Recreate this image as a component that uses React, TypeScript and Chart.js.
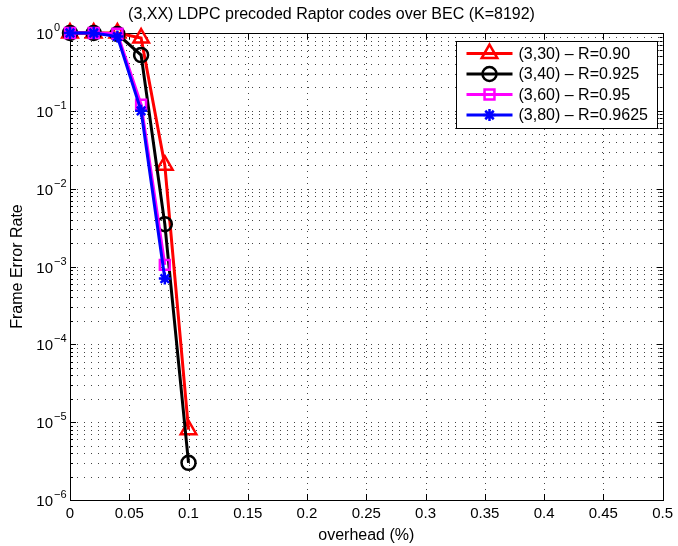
import React, { useEffect, useRef } from 'react';
import { Chart, registerables } from 'chart.js';

Chart.register(...registerables);

// ---- data ----
const overhead = [0, 0.02, 0.04, 0.06, 0.08, 0.1];
const fer330 = [1, 1, 1, 0.86, 0.02, 8e-6];
const fer340 = [1, 1, 0.97, 0.52, 0.0035, 3e-6];
const fer360 = [1, 1, 0.98, 0.12, 0.00105];
const fer380 = [1, 1, 0.9, 0.1, 0.0007];
const seriesLabels = ['(3,30) \u2013 R=0.90', '(3,40) \u2013 R=0.925', '(3,60) \u2013 R=0.95', '(3,80) \u2013 R=0.9625'];
const seriesColors = ['#ff0000', '#000000', '#ff00ff', '#0000ff'];
const seriesMarkers = ['triangle', 'circle', 'rect', 'star'];
const markerRadii = [9, 7, 7, 6];
const xTicks = [0, 0.05, 0.1, 0.15, 0.2, 0.25, 0.3, 0.35, 0.4, 0.45, 0.5];
const yDecades = [-6, -5, -4, -3, -2, -1, 0];
const titleText = '(3,XX) LDPC precoded Raptor codes over BEC (K=8192)';
const xTitle = 'overhead (%)';
const yTitle = 'Frame Error Rate';

const FONT = '"Liberation Sans", Arial, Helvetica, sans-serif';

function yTickValues() {
  const out: number[] = [];
  for (let i = 0; i < yDecades.length; i++) {
    const d = yDecades[i];
    if (d === 0) { out.push(1); break; }
    for (let m = 1; m <= 9; m++) out.push(m * Math.pow(10, d));
  }
  return out;
}

function drawMarker(ctx: CanvasRenderingContext2D, style: string, x: number, y: number, r: number) {
  ctx.beginPath();
  if (style === 'triangle') {
    let rad = 0;
    ctx.moveTo(x + Math.sin(rad) * r, y - Math.cos(rad) * r);
    rad += (2 * Math.PI) / 3;
    ctx.lineTo(x + Math.sin(rad) * r, y - Math.cos(rad) * r);
    rad += (2 * Math.PI) / 3;
    ctx.lineTo(x + Math.sin(rad) * r, y - Math.cos(rad) * r);
    ctx.closePath();
  } else if (style === 'circle') {
    ctx.arc(x, y, r, 0, Math.PI * 2);
    ctx.closePath();
  } else if (style === 'rect') {
    const s = r * Math.SQRT1_2;
    ctx.rect(x - s, y - s, 2 * s, 2 * s);
  } else if (style === 'star') {
    for (let k = 0; k < 4; k++) {
      const a = (k * Math.PI) / 4;
      ctx.moveTo(x - Math.cos(a) * r, y - Math.sin(a) * r);
      ctx.lineTo(x + Math.cos(a) * r, y + Math.sin(a) * r);
    }
  }
  ctx.stroke();
}

const matlabPlugin = {
  id: 'matlabAxes',
  beforeDatasetsDraw(chart: any) {
    const { ctx, chartArea: a, scales } = chart;
    const xs = scales.x, ys = scales.y;
    ctx.save();
    // dotted grid
    ctx.strokeStyle = '#444';
    ctx.lineWidth = 1;
    ctx.setLineDash([1, 6]);
    ys.ticks.forEach((t: any) => {
      const py = Math.round(ys.getPixelForValue(t.value)) + 0.5;
      if (py <= a.top + 1 || py >= a.bottom - 1) return;
      ctx.beginPath(); ctx.moveTo(a.left, py); ctx.lineTo(a.right, py); ctx.stroke();
    });
    ctx.setLineDash([1, 5]);
    xs.ticks.forEach((t: any) => {
      const px = Math.round(xs.getPixelForValue(t.value)) + 0.5;
      if (px <= a.left + 1 || px >= a.right - 1) return;
      ctx.beginPath(); ctx.moveTo(px, a.top); ctx.lineTo(px, a.bottom); ctx.stroke();
    });
    ctx.setLineDash([]);
    // box
    ctx.strokeStyle = '#000';
    ctx.lineWidth = 1;
    ctx.strokeRect(Math.round(a.left) + 0.5, Math.round(a.top) + 0.5, Math.round(a.right - a.left), Math.round(a.bottom - a.top));
    // inner tick marks
    ctx.beginPath();
    xs.ticks.forEach((t: any) => {
      const px = Math.round(xs.getPixelForValue(t.value)) + 0.5;
      ctx.moveTo(px, a.bottom); ctx.lineTo(px, a.bottom - 6);
      ctx.moveTo(px, a.top); ctx.lineTo(px, a.top + 6);
    });
    ys.ticks.forEach((t: any) => {
      const py = Math.round(ys.getPixelForValue(t.value)) + 0.5;
      const major = Math.abs(Math.log10(t.value) - Math.round(Math.log10(t.value))) < 1e-9;
      const len = major ? 6 : 3;
      ctx.moveTo(a.left, py); ctx.lineTo(a.left + len, py);
      ctx.moveTo(a.right, py); ctx.lineTo(a.right - len, py);
    });
    ctx.stroke();
    // y tick labels: 10 with superscript exponent
    ctx.fillStyle = '#000';
    yDecades.forEach((d) => {
      const py = ys.getPixelForValue(Math.pow(10, d));
      const baseRight = a.left - 17;
      ctx.font = '15px ' + FONT;
      ctx.textAlign = 'right';
      ctx.textBaseline = 'middle';
      ctx.fillText('10', baseRight, py + 2);
      ctx.font = '11px ' + FONT;
      ctx.textAlign = 'left';
      ctx.fillText(d === 0 ? '0' : '\u2212' + String(-d), baseRight + 1, py - 5);
    });
    ctx.restore();
  },
  afterDraw(chart: any) {
    const { ctx, chartArea: a } = chart;
    const bw = 201, bh = 87;
    const bx = Math.round(a.right - 6 - bw) + 0.5;
    const by = Math.round(a.top + 8) + 0.5;
    ctx.save();
    ctx.fillStyle = '#fff';
    ctx.fillRect(bx, by, bw, bh);
    ctx.strokeStyle = '#000';
    ctx.lineWidth = 1;
    ctx.strokeRect(bx, by, bw, bh);
    ctx.font = '16px ' + FONT;
    ctx.textBaseline = 'middle';
    ctx.textAlign = 'left';
    chart.data.datasets.forEach((ds: any, i: number) => {
      const ry = by + 12 + i * 20.5;
      ctx.strokeStyle = ds.borderColor;
      ctx.lineWidth = 3;
      ctx.beginPath(); ctx.moveTo(bx + 10, ry); ctx.lineTo(bx + 56, ry); ctx.stroke();
      ctx.lineWidth = 2.5;
      drawMarker(ctx, seriesMarkers[i], bx + 33, ry, markerRadii[i]);
      ctx.fillStyle = '#000';
      ctx.fillText(ds.label, bx + 62, ry + 1);
    });
    ctx.restore();
  },
};

export default function App() {
  const ref = useRef<HTMLCanvasElement | null>(null);
  useEffect(() => {
    const canvas = ref.current;
    if (!canvas) return;
    const series = [fer330, fer340, fer360, fer380];
    const chart = new Chart(canvas, {
      type: 'line',
      data: {
        datasets: series.map((vals, i) => ({
          label: seriesLabels[i],
          data: vals.map((v, j) => ({ x: overhead[j], y: v })),
          borderColor: seriesColors[i],
          backgroundColor: 'rgba(0,0,0,0)',
          borderWidth: 3,
          pointStyle: seriesMarkers[i] as any,
          pointRadius: markerRadii[i],
          pointBorderWidth: 2.5,
          pointBorderColor: seriesColors[i],
          pointBackgroundColor: 'rgba(0,0,0,0)',
          tension: 0,
          clip: false as any,
          order: 4 - i,
        })),
      },
      options: {
        responsive: false,
        animation: false,
        events: [],
        layout: { padding: { left: 0, right: 15, top: 0, bottom: 0 } },
        plugins: {
          legend: { display: false },
          tooltip: { enabled: false },
          title: {
            display: true,
            text: titleText,
            color: '#000',
            font: { family: FONT, size: 16, weight: 'normal' },
            padding: { top: 5, bottom: 8.8 },
          },
        },
        scales: {
          x: {
            type: 'linear',
            min: 0,
            max: 0.5,
            afterBuildTicks: (s: any) => { s.ticks = xTicks.map((v) => ({ value: v })); },
            afterFit: (s: any) => { s.height = 46; },
            grid: { display: false, drawTicks: false },
            border: { display: false },
            ticks: {
              autoSkip: false,
              maxRotation: 0,
              padding: 5,
              color: '#000',
              font: { family: FONT, size: 15 },
              callback: (v: any) => String(Number(Number(v).toFixed(2))),
            },
            title: {
              display: true,
              text: xTitle,
              color: '#000',
              font: { family: FONT, size: 16 },
              padding: { top: 0, bottom: 1 },
            },
          },
          y: {
            type: 'logarithmic',
            min: 1e-6,
            max: 1,
            afterBuildTicks: (s: any) => { s.ticks = yTickValues().map((v) => ({ value: v })); },
            afterFit: (s: any) => { s.width = 70; },
            grid: { display: false, drawTicks: false },
            border: { display: false },
            ticks: {
              display: false,
              autoSkip: false,
            },
            title: {
              display: true,
              text: yTitle,
              color: '#000',
              font: { family: FONT, size: 16 },
              padding: { top: 8, bottom: 0 },
            },
          },
        },
      },
      plugins: [matlabPlugin],
    });
    return () => chart.destroy();
  }, []);
  return (
    <div style={{ position: 'fixed', left: 0, top: 0, width: 678, height: 546, background: '#fff' }}>
      <canvas ref={ref} width={678} height={546} style={{ display: 'block' }} />
    </div>
  );
}
